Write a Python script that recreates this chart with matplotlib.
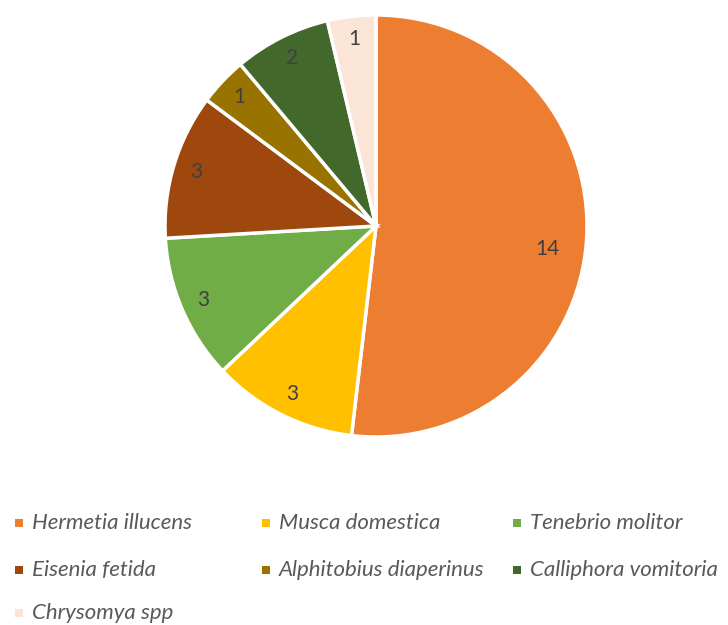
import matplotlib.pyplot as plt
from matplotlib.patches import Rectangle
import numpy as np

# --------------------------------------------------
# Data
# --------------------------------------------------
species = ["Hermetia illucens", "Musca domestica", "Tenebrio molitor",
           "Eisenia fetida", "Alphitobius diaperinus", "Calliphora vomitoria",
           "Chrysomya spp"]
counts = [14, 3, 3, 3, 1, 2, 1]
colors = ["#ED7D31", "#FFC000", "#70AD47", "#9E480E", "#997300", "#43682B", "#FBE5D6"]

plt.rcParams["font.family"] = ["Lato", "DejaVu Sans"]

fig = plt.figure(figsize=(7.28, 6.25), dpi=100)
W, H = 728, 625

# pie axes: centre (376, 226) px, radius 211 px
cx, cy, r = 376, 226, 211
ax = fig.add_axes([(cx - r) / W, (H - cy - r) / H, 2 * r / W, 2 * r / H])

total = sum(counts)
wedges, texts, autotexts = ax.pie(
    counts, colors=colors, startangle=90, counterclock=False,
    autopct=lambda p: f"{p * total / 100:.0f}", pctdistance=0.89,
    wedgeprops=dict(edgecolor="white", linewidth=2.5),
    textprops=dict(color="#404040", fontsize=15))
ax.set_aspect("equal")
ax.set_xlim(-1, 1)
ax.set_ylim(-1, 1)

# the big slice label sits further in and a bit lower
autotexts[0].set_position((0.81, -0.11))

# --------------------------------------------------
# Legend, laid out row-wise like the original (3 columns)
# --------------------------------------------------
col_x = [15, 262, 513]
row_y = [523, 570, 613]
for i, (name, c) in enumerate(zip(species, colors)):
    row, col = divmod(i, 3)
    x, y = col_x[col], row_y[row]
    fig.patches.append(Rectangle((x / W, (H - y - 4) / H), 8 / W, 8 / H,
                                 transform=fig.transFigure, facecolor=c,
                                 edgecolor="none"))
    fig.text((x + 17) / W, (H - y) / H, name, fontsize=16, style="italic",
             color="#595959", va="center", ha="left")

fig.savefig("out.png", dpi=100)
